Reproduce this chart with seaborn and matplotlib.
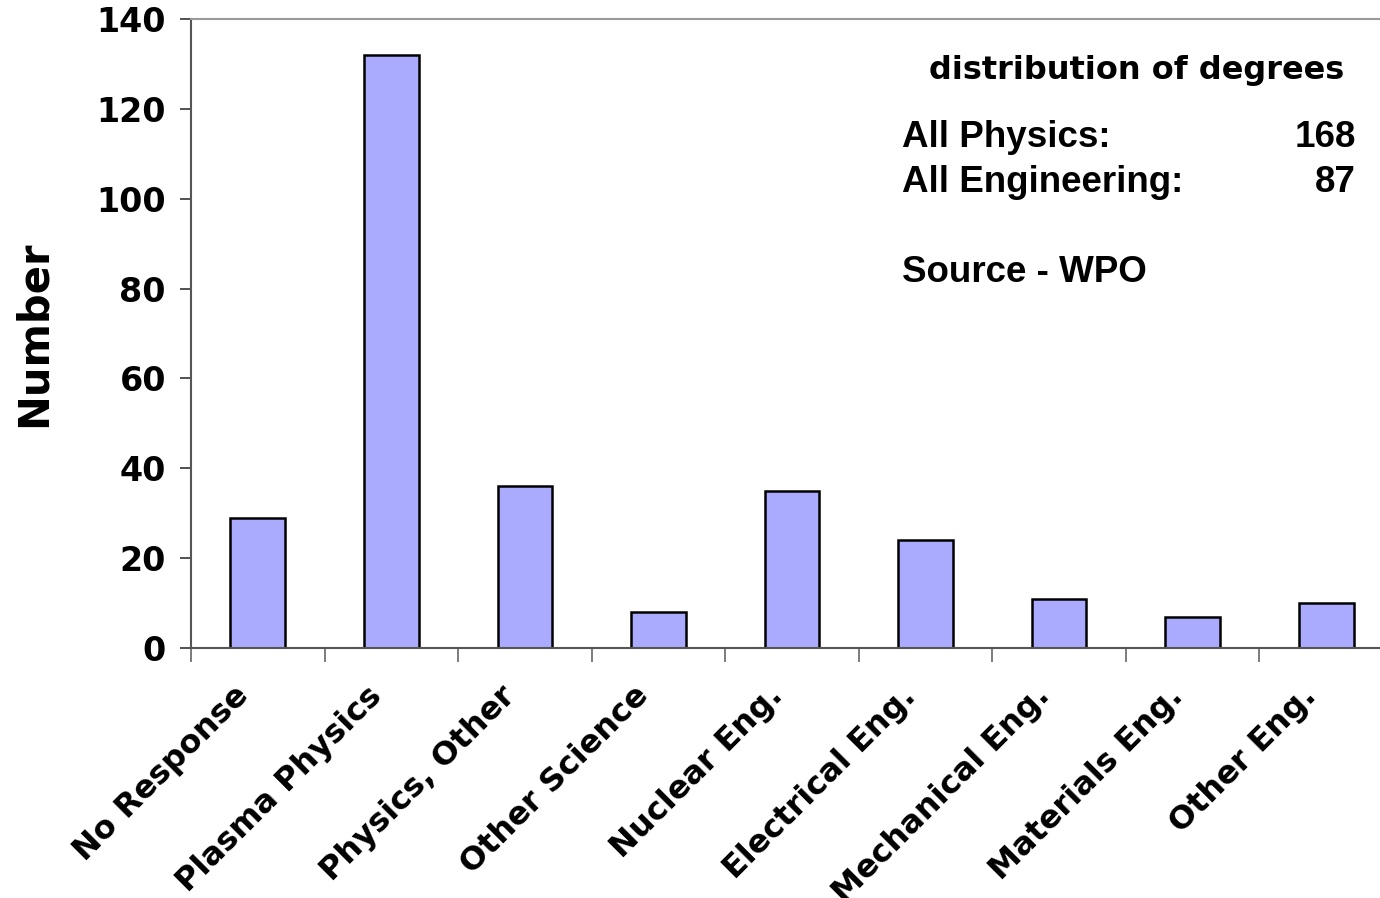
import numpy as np
import pandas as pd
import matplotlib
matplotlib.use("Agg")
import matplotlib.pyplot as plt
import matplotlib.transforms as mtransforms
import seaborn as sns

categories = ["No Response", "Plasma Physics", "Physics, Other", "Other Science",
              "Nuclear Eng.", "Electrical Eng.", "Mechanical Eng.", "Materials Eng.",
              "Other Eng."]
counts = [29, 132, 36, 8, 35, 24, 11, 7, 10]
y_ticks = [0, 20, 40, 60, 80, 100, 120, 140]
summary_labels = ["All Physics:", "All Engineering:"]
summary_values = [168, 87]

df = pd.DataFrame({"field": categories, "count": counts})

sns.set_style("white")
plt.rcParams["font.family"] = ["DejaVu Sans"]
plt.rcParams["text.color"] = "black"
plt.rcParams["axes.labelcolor"] = "black"
plt.rcParams["xtick.labelcolor"] = "black"
plt.rcParams["ytick.labelcolor"] = "black"

W, H = 1380, 898
fig = plt.figure(figsize=(W / 100, H / 100), dpi=100)
ax = fig.add_axes([191 / W, 1 - 648 / H, (1393 - 191) / W, (648 - 19) / H])

sns.barplot(data=df, x="field", y="count", color="#aaaaff", saturation=1,
            width=0.41, edgecolor="black", linewidth=1.8, ax=ax)

ax.set_xlim(-0.5, len(categories) - 0.5)
ax.set_ylim(0, 140)
ax.set_yticks(y_ticks)
ax.set_yticklabels([str(v) for v in y_ticks], fontsize=24, fontweight="bold")
ax.set_xticks(range(len(categories)))
ax.set_xticklabels(categories, rotation=45, ha="right", rotation_mode="anchor",
                   fontsize=23, fontweight="bold")
ax.set_xticks(np.arange(-0.5, len(categories), 1.0), minor=True)
ax.tick_params(axis="x", which="major", length=0, pad=14)
ax.tick_params(axis="x", which="minor", length=10, width=1.2, color="#666666",
               direction="out", bottom=True)
ax.tick_params(axis="y", length=8, width=1.2, color="#333333", direction="out",
               left=True, pad=10)
# nudge the slanted labels left/down so they end near the bar centres
shift = mtransforms.ScaledTranslation(-0.25, -0.13, fig.dpi_scale_trans)
for lab in ax.get_xticklabels():
    lab.set_transform(lab.get_transform() + shift)
ax.set_xlabel("")
ax.set_ylabel("Number", fontsize=30, fontweight="bold", labelpad=30)

for side in ["left", "bottom"]:
    ax.spines[side].set_color("#555555")
    ax.spines[side].set_linewidth(1.5)
ax.spines["top"].set_color("#999999")
ax.spines["top"].set_linewidth(1.5)
ax.spines["right"].set_visible(False)

fig.text(1137 / W, 1 - 71 / H, "distribution of degrees", ha="center", va="center",
         fontsize=23, fontweight="bold")
arial = ["Liberation Sans", "DejaVu Sans"]
for i, (lab, val) in enumerate(zip(summary_labels, summary_values)):
    yy = 1 - (138 + 45 * i) / H
    fig.text(902 / W, yy, lab, ha="left", va="center", fontsize=26.5,
             fontweight="bold", family=arial)
    fig.text(1356 / W, yy, str(val), ha="right", va="center", fontsize=26.5,
             fontweight="bold", family=arial)
fig.text(902 / W, 1 - 272 / H, "Source - WPO", ha="left", va="center", fontsize=26.5,
         fontweight="bold", family=arial)

fig.savefig("out.png", dpi=100)
